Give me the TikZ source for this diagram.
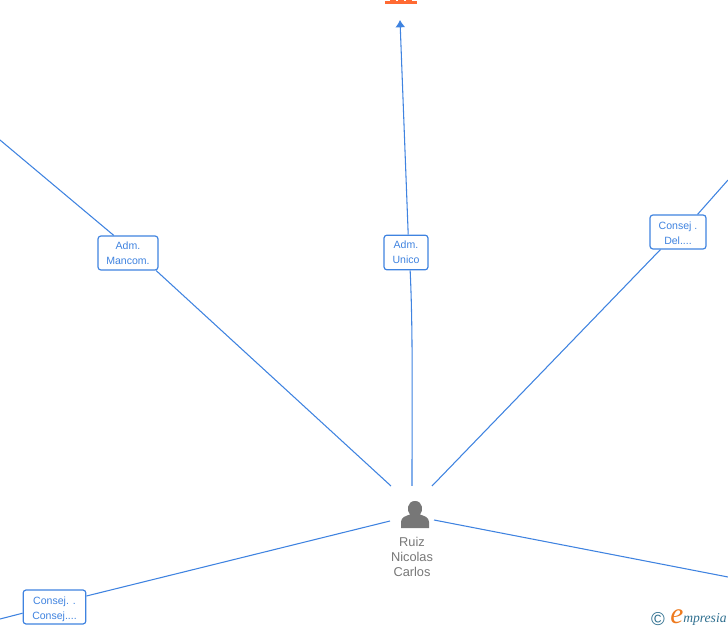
\documentclass[tikz,border=0pt]{standalone}
\usepackage{fontspec}
\usetikzlibrary{arrows.meta}
\setmainfont{Liberation Sans}
\newfontfamily\logofont{Liberation Serif}
\definecolor{linkblue}{HTML}{3F83E0}
\definecolor{logoteal}{HTML}{2F6F8F}
\definecolor{logoorange}{HTML}{EE7A1E}
\definecolor{iconorange}{HTML}{FF6A33}
\definecolor{persongray}{HTML}{777777}
\tikzset{
  link/.style={draw=linkblue,line width=0.8pt},
  rolebox/.style={draw=linkblue,line width=0.9pt,fill=white,rounded corners=2.2pt,inner sep=0pt,
    align=center,text=linkblue,font=\fontsize{7.9}{11.2}\selectfont},
  personlabel/.style={align=center,text=persongray,inner sep=0pt,font=\fontsize{9.6}{11.2}\selectfont}
}
\begin{document}
\begin{tikzpicture}[x=0.75pt,y=-0.75pt]
  \useasboundingbox (0,0) rectangle (728,630);
  % ends of the links
  \coordinate (topend) at (400,20);
  \coordinate (leftend) at (0,140);
  \coordinate (rightend) at (728,180);
  \coordinate (lowleftend) at (0,619);
  \coordinate (lowrightend) at (728,577);
  \coordinate (ruizA) at (391,486);
  \coordinate (ruizB) at (412,486);
  \coordinate (ruizC) at (432,486);
  \coordinate (ruizD) at (390,521);
  \coordinate (ruizE) at (434,520);
  % role boxes
  \node[rolebox,minimum width=45pt,minimum height=25.5pt] (mancom) at (128,253) {Adm.\\Mancom.};
  \node[rolebox,minimum width=33pt,minimum height=26pt] (unico) at (406,252.5) {Adm.\\Unico};
  \node[rolebox,minimum width=42pt,minimum height=25.5pt] (del) at (678,232) {\rule{0pt}{8pt}Consej .\\Del....};
  \node[rolebox,minimum width=47pt,minimum height=25.5pt] (consej) at (54.5,607) {\rule{0pt}{9pt}Consej. .\\Consej....};
  % links
  \draw[link] (ruizA) -- (mancom.-32);
  \draw[link] (mancom.129) -- (leftend);
  \draw[link] (ruizB) .. controls (412,400) and (413,330) .. (unico.-77);
  \draw[link,-{Latex[length=5.5pt,width=7.5pt]}] (unico.83) -- (topend);
  \draw[link] (ruizC) -- (del.-135);
  \draw[link] (del.42) -- (rightend);
  \draw[link] (ruizD) -- (consej.19);
  \draw[link] (consej.191) -- (lowleftend);
  \draw[link] (ruizE) -- (lowrightend);
  % person
  \fill[persongray] (401,528) -- (401,522) .. controls (401,517) and (406,516) .. (410,514.5)
    .. controls (406.5,511) and (407,501) .. (415,501) .. controls (423,501) and (423.5,511) .. (420,514.5)
    .. controls (424,516) and (429,517) .. (429,522) -- (429,528) -- cycle;
  \node[personlabel] (ruiz) at (412,557) {Ruiz\\Nicolas\\Carlos};
  % company icon, cut by the top edge
  \fill[iconorange] (385,1.5) rectangle (417,4.5);
  \fill[iconorange] (390,0) rectangle (396,2);
  \fill[iconorange] (398,0) rectangle (404,2);
  \fill[iconorange] (406,0) rectangle (412,2);
  % logo
  \node[text=logoteal,inner sep=0pt,font=\fontsize{14}{14}\selectfont] (copyright) at (658,619) {©};
  \node[text=logoorange,inner sep=0pt,font=\logofont\itshape\fontsize{22}{22}\selectfont] (logoe) at (677,617) {e};
  \node[text=logoteal,inner sep=0pt,anchor=base west,font=\logofont\itshape\fontsize{10.2}{11}\selectfont] (logotext) at (683,622) {mpresia};
\end{tikzpicture}
\end{document}
